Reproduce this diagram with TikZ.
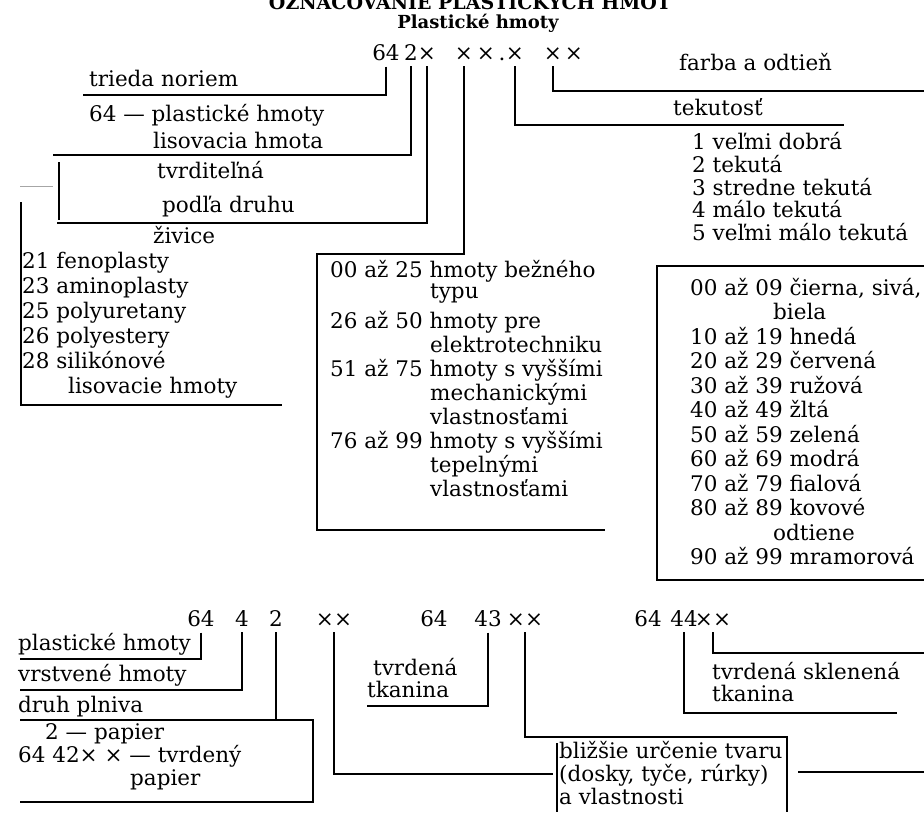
\documentclass[tikz,border=0pt]{standalone}
\usepackage{fontspec}
\setmainfont{DejaVu Serif}
\usetikzlibrary{calc}

\newcommand\txt{\fontsize{21.5}{23}\selectfont}
\newcommand\headfont{\fontsize{19}{21}\selectfont\bfseries}
\newcommand\subfont{\fontsize{18}{20}\selectfont\bfseries}

\tikzset{
  lbl/.style={anchor=base west, inner sep=0pt, font=\txt},
  code/.style={anchor=base, inner xsep=0pt, inner ysep=6pt, font=\txt},
  rule/.style={line width=1.4pt},
  faint/.style={line width=0.8pt, black!35},
}

\begin{document}
\begin{tikzpicture}[x=1pt,y=-1pt]
  \useasboundingbox (0,0) rectangle (924,812);
  \fill[white] (0,0) rectangle (924,812);

  %% headings
  \node[anchor=base,inner sep=0pt,font=\headfont] (title) at (470,9) {OZNAČOVANIE PLASTICKÝCH HMÔT};
  \node[anchor=base,inner sep=0pt,font=\subfont] (sub) at (478,28) {Plastické hmoty};

  %% code 64 2x xx.x xx
  \node[code] (k64)  at (386,60) {64};
  \node[code] (k2)   at (411,60) {2};
  \node[code] (kx1)  at (427,60) {×};
  \node[code] (kx2)  at (464,60) {×};
  \node[code] (kx3)  at (486,60) {×};
  \node[code] (kdot) at (502,60) {.};
  \node[code] (kx4)  at (515,60) {×};
  \node[code] (kx5)  at (553,60) {×};
  \node[code] (kx6)  at (574,60) {×};

  %% line ends
  \coordinate (e64) at (83,95);
  \coordinate (e2)  at (53,155);
  \coordinate (ex1) at (57,223);
  \coordinate (ex4) at (844,125);
  \coordinate (ex5) at (924,91);
  \coordinate (mb-nw) at (317,254);
  \coordinate (mb-sw) at (317,530);
  \coordinate (mb-se) at (605,530);

  \draw[rule] (k64.south) |- (e64);
  \draw[rule] (k2.south) |- (e2);
  \draw[rule] (kx1.south) |- (ex1);
  \draw[rule] (kx2.south) |- (mb-nw) -- (mb-sw) -- (mb-se);
  \draw[rule] (kx4.south) |- (ex4);
  \draw[rule] (kx5.south) |- (ex5);

  %% brackets
  \draw[rule] (59,162) -- (59,220);
  \draw[faint] (20,186) -- (53,186);
  \draw[rule] (21,202) -- (21,405) -- (282,405);
  \draw[rule] (924,266) -- (657,266) -- (657,580) -- (924,580);

  %% left labels
  \node[lbl] (trieda) at (89,86)  {trieda noriem};
  \node[lbl] (plast)  at (89,121) {64 — plastické hmoty};
  \node[lbl] (lisov)  at (153,148) {lisovacia hmota};
  \node[lbl] (tvrd)   at (157,178) {tvrditeľná};
  \node[lbl] (podla)  at (162,212) {podľa druhu};
  \node[lbl] (zivice) at (153,243) {živice};
  \foreach \y/\t in {268/21 fenoplasty, 293/23 aminoplasty, 318/25 polyuretany,
                     343/26 polyestery, 368/28 silikónové}
    \node[lbl] (z\y) at (22,\y) {\t};
  \node[lbl] (z393) at (68,393) {lisovacie hmoty};

  %% right labels
  \node[lbl] (farba) at (679,70)  {farba a odtieň};
  \node[lbl] (tekut) at (673,115) {tekutosť};
  \foreach \y/\t in {149/1 veľmi dobrá, 172/2 tekutá, 195/3 stredne tekutá,
                     217/4 málo tekutá, 240/5 veľmi málo tekutá}
    \node[lbl] (t\y) at (692,\y) {\t};

  %% middle box
  \foreach \y/\t in {277/00 až 25 hmoty bežného, 328/26 až 50 hmoty pre,
                     376/51 až 75 hmoty s vyššími, 448/76 až 99 hmoty s vyššími}
    \node[lbl] (m\y) at (330,\y) {\t};
  \foreach \y/\t in {298/typu, 352/elektrotechniku, 400/mechanickými,
                     424/vlastnosťami, 472/tepelnými, 496/vlastnosťami}
    \node[lbl] (m\y) at (430,\y) {\t};

  %% colours
  \foreach \y/\t in {295/{00 až 09 čierna, sivá,}, 344/10 až 19 hnedá,
                     368.5/20 až 29 červená, 393/30 až 39 ružová, 417.5/40 až 49 žltá,
                     442/50 až 59 zelená, 466.5/60 až 69 modrá, 491/70 až 79 fialová,
                     515.5/80 až 89 kovové, 564.5/90 až 99 mramorová}
    \node[lbl] at (690,\y) {\t};
  \node[lbl] (biela) at (773,319.5) {biela};
  \node[lbl] (odt)   at (773,540) {odtiene};

  %% codes 64 4 2 xx, 64 43xx, 64 44xx
  \node[code] (b64) at (201,626) {64};
  \node[code] (b4)  at (242,626) {4};
  \node[code] (b2)  at (276,626) {2};
  \node[code] (bxx) at (334,626) {××};
  \node[code] (c64) at (434,626) {64};
  \node[code] (c43) at (488,626) {43};
  \node[code] (cxx) at (525,626) {××};
  \node[code] (d64) at (648,626) {64};
  \node[code] (d44) at (684,626) {44};
  \node[code] (dxx) at (713,626) {××};

  \coordinate (eb64) at (20,659);
  \coordinate (eb4)  at (20,690);
  \coordinate (bx-nw) at (20,720);
  \coordinate (bx-ne) at (313,720);
  \coordinate (bx-se) at (313,802);
  \coordinate (bx-sw) at (20,802);
  \coordinate (ebxx) at (553,774);
  \coordinate (ec43) at (367,706);
  \coordinate (bl-ne) at (787,737);
  \coordinate (bl-se) at (787,812);
  \coordinate (bl-nw) at (557,743);
  \coordinate (bl-sw) at (557,812);
  \coordinate (ed44) at (897,713);
  \coordinate (edxx) at (924,653);

  \draw[rule] (b64.south) |- (eb64);
  \draw[rule] (b4.south) |- (eb4);
  \draw[rule] (b2.south) -- (b2.south |- bx-nw);
  \draw[rule] (bx-nw) -- (bx-ne) -- (bx-se) -- (bx-sw);
  \draw[rule] (bxx.south) |- (ebxx);
  \draw[rule] (c43.south) |- (ec43);
  \draw[rule] (cxx.south) |- (bl-ne) -- (bl-se);
  \draw[rule] (bl-nw) -- (bl-sw);
  \draw[rule] (798,772) -- (924,772);
  \draw[rule] (d44.south) |- (ed44);
  \draw[rule] (dxx.south) |- (edxx);

  %% lower labels
  \node[lbl] (l650) at (18,650) {plastické hmoty};
  \node[lbl] (l681) at (18,681) {vrstvené hmoty};
  \node[lbl] (l712) at (18,712) {druh plniva};
  \node[lbl] (l739) at (45,739) {2 — papier};
  \node[lbl] (l762) at (18,762) {64 42× × — tvrdený};
  \node[lbl] (l785) at (130,785) {papier};
  \node[lbl] (tk1) at (373,675) {tvrdená};
  \node[lbl] (tk2) at (367,697) {tkanina};
  \node[lbl] (sk1) at (712,679) {tvrdená sklenená};
  \node[lbl] (sk2) at (712,701) {tkanina};
  \node[lbl] (bl1) at (559,758) {bližšie určenie tvaru};
  \node[lbl] (bl2) at (559,781) {(dosky, tyče, rúrky)};
  \node[lbl] (bl3) at (559,804) {a vlastnosti};
\end{tikzpicture}
\end{document}
